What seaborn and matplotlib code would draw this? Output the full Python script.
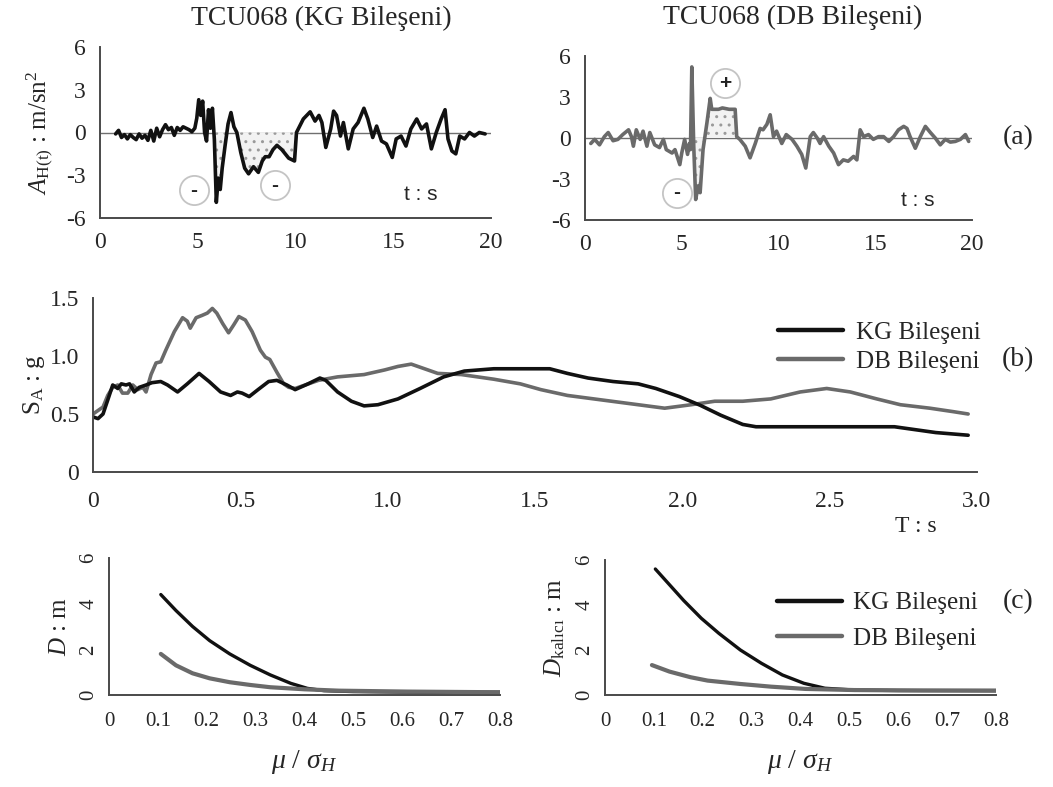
import numpy as np
import matplotlib
matplotlib.use("Agg")
import matplotlib.pyplot as plt
import seaborn as sns

# ---------------- data ----------------
# TCU068 ground acceleration, N-S (KG) component  [t (s), A (m/s^2)]
kg_t = [0.8, 0.95, 1.1, 1.25, 1.4, 1.55, 1.7, 1.85, 2.0, 2.15, 2.3, 2.45, 2.6, 2.75, 2.9, 3.05,
        3.2, 3.35, 3.5, 3.65, 3.8, 3.95, 4.1, 4.25, 4.4, 4.55, 4.7, 4.85, 4.95, 5.05, 5.15, 5.25,
        5.35, 5.45, 5.55, 5.65, 5.75, 5.85, 5.95, 6.05, 6.15, 6.25, 6.4, 6.55, 6.7, 6.85, 7.0,
        7.2, 7.4, 7.6, 7.85, 8.1, 8.3, 8.45, 8.65, 8.85, 9.05, 9.3, 9.65, 9.95, 10.05, 10.4,
        10.75, 11.0, 11.2, 11.35, 11.55, 11.8, 11.95, 12.1, 12.3, 12.45, 12.7, 12.95, 13.2,
        13.5, 13.7, 13.95, 14.15, 14.4, 14.65, 14.95, 15.15, 15.4, 15.65, 15.9, 16.2, 16.45,
        16.7, 16.95, 17.2, 17.45, 17.65, 17.8, 18.0, 18.2, 18.4, 18.65, 18.9, 19.15, 19.4, 19.7]
kg_a = [-0.1, 0.15, -0.35, -0.15, -0.45, -0.15, -0.35, -0.5, -0.1, -0.4, -0.2, -0.55, 0.15,
        -0.6, 0.3, -0.3, 0.2, 0.55, 0.2, 0.35, -0.2, 0.35, 0.15, 0.4, 0.3, 0.2, 0.05, 0.3, 1.0,
        2.3, 1.2, 2.2, 0.0, -0.6, 1.6, 0.3, 1.7, -0.5, -4.9, -3.2, -4.0, -2.5, -0.9, 0.6, 1.4,
        0.4, 0.0, -1.4, -2.5, -2.9, -2.4, -2.8, -2.0, -1.7, -1.7, -1.2, -0.9, -1.2, -1.8, -2.0,
        0.0, 0.95, 1.45, 0.8, 1.2, 0.7, -1.05, 0.25, 1.5, 1.2, -0.25, 0.7, -1.15, 0.25, 0.7,
        1.7, 0.95, -0.35, 0.45, -0.6, -0.8, -1.75, -0.45, -0.25, -0.95, 0.25, 0.95, 0.25, 0.6,
        -1.15, 0.0, 0.95, 1.6, -0.45, -1.3, -1.5, -0.25, -0.45, 0.0, -0.25, 0.0, -0.1]

# TCU068 ground acceleration, E-W (DB) component
db_t = [0.3, 0.5, 0.75, 1.0, 1.2, 1.45, 1.7, 1.95, 2.25, 2.4, 2.5, 2.65, 2.85, 3.0, 3.2, 3.35,
        3.6, 3.85, 4.05, 4.2, 4.5, 4.65, 4.9, 5.0, 5.15, 5.3, 5.4, 5.45, 5.52, 5.62, 5.72, 5.85,
        5.95, 6.1, 6.3, 6.47, 6.55, 6.9, 7.1, 7.45, 7.76, 7.84, 8.0, 8.28, 8.53, 8.8, 9.05,
        9.2, 9.4, 9.57, 9.74, 9.9, 10.17, 10.4, 10.7, 10.95, 11.2, 11.41, 11.64, 11.8, 12.0,
        12.15, 12.33, 12.6, 12.85, 13.1, 13.35, 13.6, 13.88, 14.05, 14.22, 14.4, 14.65, 14.9,
        15.17, 15.43, 15.7, 15.95, 16.2, 16.47, 16.64, 16.8, 17.07, 17.33, 17.59, 17.85, 18.1,
        18.36, 18.62, 18.88, 19.14, 19.4, 19.66, 19.83]
db_a = [-0.4, -0.1, -0.5, 0.1, 0.4, -0.2, -0.1, 0.25, 0.6, 0.1, -0.6, 0.6, -0.1, 0.5, -0.6,
        0.4, -0.5, -0.7, -0.1, -0.85, -1.1, -0.85, -1.95, -1.1, -0.1, -1.2, -0.4, -0.85, 5.2,
        -0.6, -4.5, -3.5, -4.0, -0.85, 1.1, 2.9, 2.1, 2.1, 2.2, 2.1, 2.1, 0.1, -0.1, -0.6,
        -1.45, -0.4, 0.7, 0.6, 1.0, 1.7, 0.1, 0.5, -0.4, 0.25, -0.1, -0.6, -1.2, -2.2, 0.1,
        0.4, 0.0, -0.4, 0.1, -0.6, -1.1, -1.95, -1.6, -1.7, -1.35, -1.6, 0.6, 0.1, 0.25, -0.1,
        0.1, 0.1, -0.25, 0.1, 0.6, 0.85, 0.7, 0.1, -0.75, 0.1, 0.85, 0.4, 0.0, -0.5, -0.1,
        -0.3, -0.25, -0.1, 0.25, -0.25]

# Spectral acceleration  [T (s), SA (g)]
kg_T = [0.0, 0.017, 0.034, 0.05, 0.067, 0.084, 0.096, 0.112, 0.124, 0.14, 0.157, 0.18, 0.2,
        0.23, 0.253, 0.287, 0.32, 0.36, 0.394, 0.433, 0.467, 0.49, 0.506, 0.53, 0.56, 0.596,
        0.624, 0.658, 0.686, 0.73, 0.77, 0.79, 0.83, 0.877, 0.92, 0.967, 1.035, 1.11, 1.19,
        1.26, 1.36, 1.55, 1.61, 1.68, 1.765, 1.85, 1.91, 1.99, 2.06, 2.13, 2.205, 2.25, 2.38,
        2.56, 2.72, 2.86, 2.97]
kg_SA = [0.475, 0.46, 0.5, 0.62, 0.75, 0.72, 0.76, 0.75, 0.76, 0.69, 0.73, 0.75, 0.77, 0.78,
         0.75, 0.69, 0.76, 0.85, 0.78, 0.69, 0.66, 0.69, 0.68, 0.65, 0.71, 0.78, 0.79, 0.75,
         0.71, 0.76, 0.81, 0.79, 0.69, 0.61, 0.57, 0.58, 0.63, 0.72, 0.82, 0.87, 0.89, 0.89,
         0.85, 0.81, 0.78, 0.76, 0.72, 0.65, 0.576, 0.49, 0.41, 0.39, 0.39, 0.39, 0.39, 0.34,
         0.317]
db_T = [0.0, 0.017, 0.034, 0.05, 0.067, 0.084, 0.1, 0.118, 0.135, 0.152, 0.169, 0.18, 0.197,
        0.214, 0.23, 0.247, 0.276, 0.304, 0.32, 0.33, 0.35, 0.37, 0.388, 0.405, 0.42, 0.44,
        0.46, 0.478, 0.495, 0.517, 0.54, 0.568, 0.585, 0.6, 0.624, 0.647, 0.664, 0.686, 0.72,
        0.765, 0.83, 0.92, 0.99, 1.035, 1.08, 1.125, 1.17, 1.25, 1.36, 1.45, 1.52, 1.61, 1.73,
        1.85, 1.94, 2.03, 2.11, 2.205, 2.3, 2.4, 2.49, 2.57, 2.66, 2.74, 2.84, 2.92, 2.97]
db_SA = [0.5, 0.53, 0.56, 0.66, 0.73, 0.75, 0.68, 0.68, 0.75, 0.71, 0.73, 0.69, 0.84, 0.94,
         0.95, 1.05, 1.21, 1.33, 1.3, 1.24, 1.33, 1.35, 1.37, 1.41, 1.37, 1.28, 1.2, 1.27, 1.34,
         1.31, 1.21, 1.05, 0.99, 0.97, 0.86, 0.76, 0.73, 0.72, 0.75, 0.79, 0.82, 0.84, 0.88,
         0.91, 0.93, 0.89, 0.85, 0.84, 0.8, 0.76, 0.71, 0.66, 0.62, 0.58, 0.55, 0.58, 0.61,
         0.61, 0.63, 0.69, 0.72, 0.69, 0.63, 0.58, 0.55, 0.52, 0.5]

# Sliding displacement D vs mu/sigma_H
mu_kg_D = [0.106, 0.137, 0.171, 0.206, 0.247, 0.289, 0.33, 0.372, 0.406, 0.44, 0.5, 0.6, 0.7, 0.8]
D_kg = [4.4, 3.7, 3.0, 2.38, 1.8, 1.3, 0.88, 0.51, 0.29, 0.19, 0.15, 0.13, 0.12, 0.12]
mu_db_D = [0.106, 0.137, 0.171, 0.206, 0.247, 0.289, 0.33, 0.4, 0.47, 0.61, 0.8]
D_db = [1.8, 1.3, 0.95, 0.73, 0.56, 0.44, 0.34, 0.25, 0.19, 0.15, 0.12]

# Permanent displacement D_kalici vs mu/sigma_H
mu_kg_P = [0.103, 0.132, 0.161, 0.197, 0.233, 0.277, 0.32, 0.363, 0.407, 0.45, 0.51, 0.6, 0.7, 0.8]
P_kg = [5.6, 4.9, 4.2, 3.41, 2.74, 2.0, 1.41, 0.89, 0.52, 0.3, 0.22, 0.2, 0.2, 0.2]
mu_db_P = [0.096, 0.132, 0.175, 0.21, 0.277, 0.34, 0.41, 0.51, 0.65, 0.8]
P_db = [1.33, 1.04, 0.79, 0.64, 0.49, 0.37, 0.27, 0.22, 0.2, 0.19]

acc_ticks = [-6, -3, 0, 3, 6]
time_ticks = [0, 5, 10, 15, 20]
T_ticks = [0, 0.5, 1.0, 1.5, 2.0, 2.5, 3.0]
T_labels = ["0", "0.5", "1.0", "1.5", "2.0", "2.5", "3.0"]
SA_ticks = [0, 0.5, 1.0, 1.5]
SA_labels = ["0", "0.5", "1.0", "1.5"]
mu_ticks = [0, 0.1, 0.2, 0.3, 0.4, 0.5, 0.6, 0.7, 0.8]
mu_labels = ["0", "0.1", "0.2", "0.3", "0.4", "0.5", "0.6", "0.7", "0.8"]
D_ticks = [0, 2, 4, 6]

# ---------------- style ----------------
sns.set_style("white")
plt.rcParams["font.family"] = ["Liberation Serif", "DejaVu Serif"]
plt.rcParams["mathtext.fontset"] = "custom"
plt.rcParams["mathtext.rm"] = "Liberation Serif"
plt.rcParams["mathtext.it"] = "Liberation Serif:italic"
plt.rcParams["axes.unicode_minus"] = False
plt.rcParams["hatch.linewidth"] = 1.0

BLACK = "#111111"
GREY = "#6a6a6a"
SPINE = "#4a4a4a"

W, H = 1053, 787
fig = plt.figure(figsize=(W / 100, H / 100), dpi=100)


def box(x0, y0, x1, y1):
    """Axes rectangle from pixel corners (top-left origin)."""
    return [x0 / W, 1 - y1 / H, (x1 - x0) / W, (y1 - y0) / H]


def clean(ax):
    for s in ("top", "right"):
        ax.spines[s].set_visible(False)
    for s in ("left", "bottom"):
        ax.spines[s].set_color(SPINE)
        ax.spines[s].set_linewidth(1.4)


ax_a1 = fig.add_axes(box(100, 47, 491, 218))
ax_a2 = fig.add_axes(box(585, 56, 972, 220))
ax_b = fig.add_axes(box(93, 298, 977, 472))
ax_c1 = fig.add_axes(box(109, 558, 500, 695))
ax_c2 = fig.add_axes(box(605, 560, 996, 695))

# ---- (a) acceleration records ----
for ax, t, a, col in ((ax_a1, kg_t, kg_a, BLACK), (ax_a2, db_t, db_a, GREY)):
    clean(ax)
    ax.axhline(0, color="#6f6f6f", lw=1.0, zorder=1)
    sns.lineplot(x=t, y=a, ax=ax, color=col, lw=2.6, estimator=None, sort=False, zorder=3)
    ax.set_xlim(0, 20)
    ax.set_ylim(-6, 6)
    ax.set_xticks(time_ticks)
    ax.set_yticks(acc_ticks)
    ax.tick_params(axis="both", direction="out", length=5, width=1.2, color=SPINE,
                   labelsize=17, pad=5)
    ax.text(16.4 if ax is ax_a1 else 17.2, -4.35 if ax is ax_a1 else -4.6, "t : s",
            family="Liberation Sans", fontsize=15, ha="center", va="center")


def shade(ax, t, a, lo, hi, neg=True):
    """Stippled area between the record and zero inside [lo, hi]."""
    t = np.asarray(t)
    a = np.asarray(a)
    cond = (t >= lo) & (t <= hi) & ((a <= 0) if neg else (a >= 0))
    ax.fill_between(t, a, 0, where=cond, interpolate=True, facecolor="#f2f2f2",
                    edgecolor="#9a9a9a", hatch="..", lw=0, zorder=2)


shade(ax_a1, kg_t, kg_a, 5.85, 10.05, neg=True)
shade(ax_a2, db_t, db_a, 5.5, 6.2, neg=True)
shade(ax_a2, db_t, db_a, 6.15, 7.84, neg=False)

# sign markers
for ax, x, y, s in ((ax_a1, 4.8, -4.05, "-"), (ax_a1, 8.95, -3.7, "-"),
                    (ax_a2, 4.75, -4.0, "-"), (ax_a2, 7.25, 4.0, "+")):
    ax.plot([x], [y], "o", ms=21, mfc="none", mec="#c4c4c4", mew=1.3, zorder=4)
    ax.text(x, y, s, ha="center", va="center", fontsize=15, fontweight="bold",
            family="Liberation Sans", color="#222222", zorder=5)

ax_a1.set_ylabel(r"$A_{\mathrm{H(t)}}$ : m/sn$^2$", fontsize=18, labelpad=8)
fig.text(321 / W, 1 - 18 / H, "TCU068 (KG Bileşeni)", ha="center", va="center", fontsize=20)
fig.text(793 / W, 1 - 17 / H, "TCU068 (DB Bileşeni)", ha="center", va="center", fontsize=20)
fig.text(1018 / W, 1 - 138 / H, "(a)", ha="center", va="center", fontsize=20)

# ---- (b) response spectra ----
clean(ax_b)
sns.lineplot(x=db_T, y=db_SA, ax=ax_b, color=GREY, lw=2.6, estimator=None, sort=False,
             label="DB Bileşeni")
sns.lineplot(x=kg_T, y=kg_SA, ax=ax_b, color=BLACK, lw=2.6, estimator=None, sort=False,
             label="KG Bileşeni")
ax_b.set_xlim(0, 3.0)
ax_b.set_ylim(0, 1.5)
ax_b.set_xticks(T_ticks, T_labels)
ax_b.set_yticks(SA_ticks, SA_labels)
ax_b.tick_params(axis="x", direction="inout", length=8, width=1.2, color=SPINE,
                 labelsize=17, pad=10)
ax_b.tick_params(axis="y", direction="out", length=4, width=1.2, color=SPINE,
                 labelsize=17, pad=6)
ax_b.set_ylabel(r"S$_{\mathrm{A}}$ : g", fontsize=18, labelpad=2)
hs, ls = ax_b.get_legend_handles_labels()
ax_b.legend([hs[1], hs[0]], [ls[1], ls[0]], loc="upper left",
            bbox_to_anchor=(778 / W, 1 - 321 / H), bbox_transform=fig.transFigure,
            frameon=False, fontsize=18, handlelength=2.6, handletextpad=0.5,
            labelspacing=0.28, borderpad=0, borderaxespad=0)
for ln in ax_b.get_legend().get_lines():
    ln.set_linewidth(3.2)
fig.text(916 / W, 1 - 526 / H, "T : s", ha="center", va="center", fontsize=17)
fig.text(1018 / W, 1 - 360 / H, "(b)", ha="center", va="center", fontsize=20)

# ---- (c) displacements ----
panels = ((ax_c1, mu_kg_D, D_kg, mu_db_D, D_db, r"$D$ : m"),
          (ax_c2, mu_kg_P, P_kg, mu_db_P, P_db, r"$D_{\mathrm{kalıcı}}$ : m"))
for ax, mk, dk, md, dd, lab in panels:
    clean(ax)
    sns.lineplot(x=mk, y=dk, ax=ax, color=BLACK, lw=2.4, estimator=None, sort=False,
                 label="KG Bileşeni")
    sns.lineplot(x=md, y=dd, ax=ax, color=GREY, lw=3.0, estimator=None, sort=False,
                 label="DB Bileşeni")
    ax.set_xlim(0, 0.8)
    ax.set_ylim(0, 6)
    ax.set_xticks(mu_ticks, mu_labels)
    ax.set_yticks(D_ticks)
    ax.tick_params(axis="x", direction="inout", length=7, width=1.2, color=SPINE,
                   labelsize=15, pad=9)
    ax.tick_params(axis="y", direction="inout", length=7, width=1.2, color=SPINE,
                   labelsize=15, pad=4, labelrotation=90)
    for tl in ax.get_yticklabels():
        tl.set_va("center")
    ax.set_ylabel(lab, fontsize=18, labelpad=6)
    ax.set_xlabel(r"$\mu$ / $\sigma_H$", fontsize=20, labelpad=12)
    if ax is ax_c1:
        ax.get_legend().remove()

leg = ax_c2.legend(loc="upper left", bbox_to_anchor=(777 / W, 1 - 592 / H),
                   bbox_transform=fig.transFigure, frameon=False, fontsize=18,
                   handlelength=2.6, handletextpad=0.45, labelspacing=0.5,
                   borderpad=0, borderaxespad=0)
for ln in leg.get_lines():
    ln.set_linewidth(3.2)
fig.text(1018 / W, 1 - 602 / H, "(c)", ha="center", va="center", fontsize=20)

fig.savefig("out.png", dpi=100)
